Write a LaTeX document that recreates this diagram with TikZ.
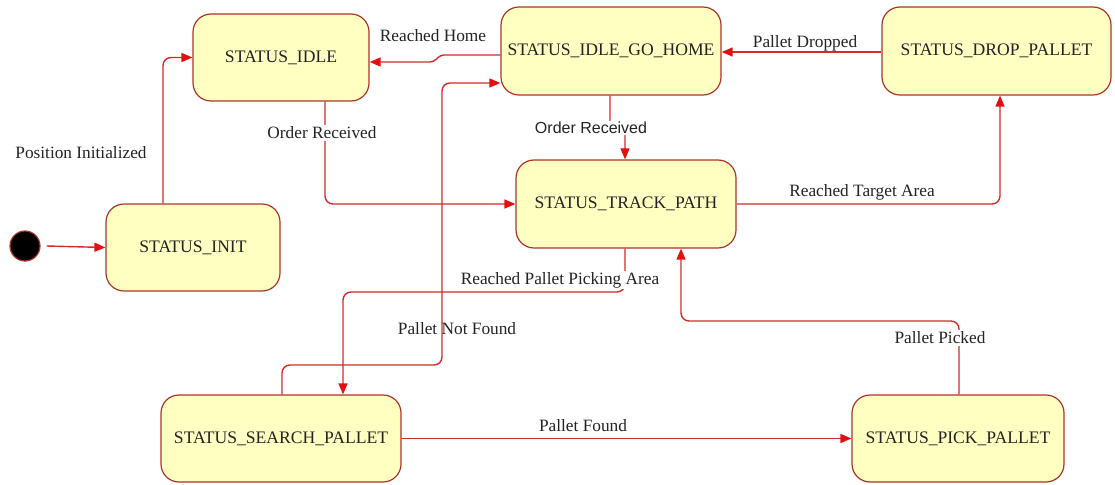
\documentclass[tikz,border=0pt]{standalone}
\usepackage{fontspec}
\setmainfont{Liberation Serif}
\newfontfamily\labsans{Liberation Sans}
\usetikzlibrary{arrows.meta}
\definecolor{boxfill}{RGB}{255,255,194}
\definecolor{boxline}{RGB}{172,52,42}
\definecolor{edgecol}{RGB}{212,42,42}
\definecolor{tipcol}{RGB}{226,16,16}
\definecolor{txt}{RGB}{35,35,35}
\begin{document}
\begin{tikzpicture}[x=1pt,y=-1pt,
  state/.style={draw=boxline, line width=1.2pt, fill=boxfill, rounded corners=18pt,
    minimum width=#1, minimum height=87pt, inner sep=0pt, text=txt,
    font=\fontsize{17.6}{20}\selectfont},
  edge/.style={draw=edgecol, line width=1.4pt, rounded corners=8pt,
    -{Triangle[length=11pt,width=9pt,color=tipcol]}},
  lab/.style={text=txt, font=\fontsize{17.3}{20}\selectfont, inner sep=1.5pt},
  labw/.style={lab, fill=white}]
\useasboundingbox (0,0) rectangle (1115,484);

% states
\node[circle, draw=boxline, line width=1.2pt, fill=black, minimum size=30pt, inner sep=0pt] (start) at (25,246) {};
\node[state=174pt] (init) at (193,247.5) {STATUS\_INIT};
\node[state=176pt] (idle) at (281,57.5) {STATUS\_IDLE};
\node[state=220pt, minimum height=88pt] (gohome) at (611,51) {STATUS\_IDLE\_GO\_HOME};
\node[state=229pt, minimum height=88pt] (drop) at (996.5,51) {STATUS\_DROP\_PALLET};
\node[state=220pt, minimum height=88pt] (track) at (626,204) {STATUS\_TRACK\_PATH};
\node[state=240pt] (search) at (281,438.5) {STATUS\_SEARCH\_PALLET};
\node[state=212pt] (pick) at (958,438.5) {STATUS\_PICK\_PALLET};

% transitions
\draw[edge] ([xshift=6pt]start.east) -- (init.west);
\draw[edge] ([xshift=-30pt]init.north) |- (idle.west);
\draw[edge] ([xshift=44pt]idle.south) |- (track.west);
\draw[edge, rounded corners=4pt] ([yshift=-4pt]gohome.west) -- (440,55) -- (434,62) -- ([yshift=-4.5pt]idle.east);
\draw[edge] ([xshift=1pt]search.north) -- (282,365) -- (442,365) -- (442,83) -- ([yshift=-32pt]gohome.west);
\draw[edge, rounded corners=3pt] ([xshift=-1pt]gohome.south) -- (610,128) -- (625,128) -- ([xshift=-1pt]track.north);
\draw[edge] ([yshift=-1pt]drop.west) -- ([yshift=-1pt]gohome.east);
\draw[edge] (track.east) -| ([xshift=3.5pt]drop.south);
\draw[edge] ([xshift=-1pt]track.south) -- (625,292) -| ([xshift=62pt]search.north);
\draw[edge] (search.east) -- (pick.west);
\draw[edge] ([xshift=1pt]pick.north) -- (959,321) -| ([xshift=55pt]track.south);

% labels
\node[lab] (lpos) at (81,153) {Position Initialized};
\node[labw] (lord1) at (322,133) {Order Received};
\node[lab] (lhome) at (433,36) {Reached Home};
\node[labw, font=\labsans\fontsize{16}{19}\selectfont] (lord2) at (591,128) {Order Received};
\node[lab] (ldrop) at (805,43) {Pallet Dropped};
\node[labw] (ltarget) at (862,192) {Reached Target Area};
\node[labw] (lpick) at (560,280) {Reached Pallet Picking Area};
\node[lab] (lnot) at (457,329) {Pallet Not Found};
\node[lab] (lfound) at (583,426) {Pallet Found};
\node[labw] (lpicked) at (940,338) {Pallet Picked};
\end{tikzpicture}
\end{document}
